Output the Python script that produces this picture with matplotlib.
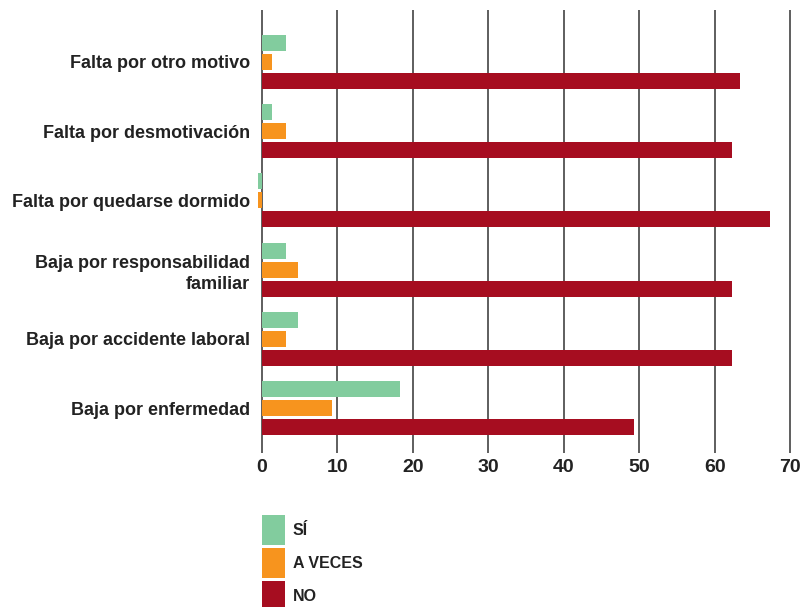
import numpy as np
import matplotlib.pyplot as plt
from matplotlib.patches import Patch

plt.rcParams['font.family'] = ['Liberation Sans', 'DejaVu Sans']

categories = ['Falta por otro motivo', 'Falta por desmotivación',
              'Falta por quedarse dormido', 'Baja por responsabilidad\nfamiliar',
              'Baja por accidente laboral', 'Baja por enfermedad']
si = [3.2, 1.3, -0.5, 3.2, 4.8, 18.3]
a_veces = [1.3, 3.2, -0.5, 4.8, 3.2, 9.3]
no = [63.4, 62.3, 67.4, 62.3, 62.3, 49.3]
series_names = ['SÍ', 'A VECES', 'NO']
colors = ['#82CC9E', '#F7941E', '#A60D20']
xticks = [0, 10, 20, 30, 40, 50, 60, 70]

fig = plt.figure(figsize=(8.06, 6.07), dpi=100)
W, H = 806, 607
left_px, right_px = 262 - 7.54, 790 + 1.5
ax = fig.add_axes([left_px / W, 1 - 453 / H, (right_px - left_px) / W, (453 - 10) / H])

y = np.arange(len(categories))
off = 0.275
h = 0.232
for k, vals in enumerate([si, a_veces, no]):
    ax.barh(y + (k - 1) * off, vals, height=h, color=colors[k], zorder=3)

ax.set_xlim(-1, 70.2)
ax.set_ylim(5.65, -0.75)
ax.set_xticks(xticks)
ax.set_xticklabels([str(t) for t in xticks], fontsize=14, fontweight='bold', color='#222222')
ax.set_yticks(y)
ax.set_yticklabels(categories, fontsize=13, fontweight='bold', color='#222222',
                   multialignment='right', linespacing=1.35)
ax.tick_params(axis='both', length=0)
ax.tick_params(axis='x', pad=4)
ax.tick_params(axis='y', pad=3.2)
ax.grid(axis='x', color='#333333', linewidth=1.1, zorder=0)
for s in ax.spines.values():
    s.set_visible(False)

handles = [Patch(facecolor=c, edgecolor='none') for c in colors]
fs = 11.5
fpx = fs * 1.389
fig.legend(handles, series_names, loc='upper left', bbox_to_anchor=(262 / W, 1 - 515 / H),
           frameon=False, borderpad=0, borderaxespad=0,
           prop={'size': fs, 'weight': 'bold'},
           handlelength=23 / fpx, handleheight=(30 / fpx - 0.245) / 0.65,
           labelspacing=3 / fpx, handletextpad=8 / fpx,
           labelcolor='#222222')

fig.savefig('out.png', dpi=100)
